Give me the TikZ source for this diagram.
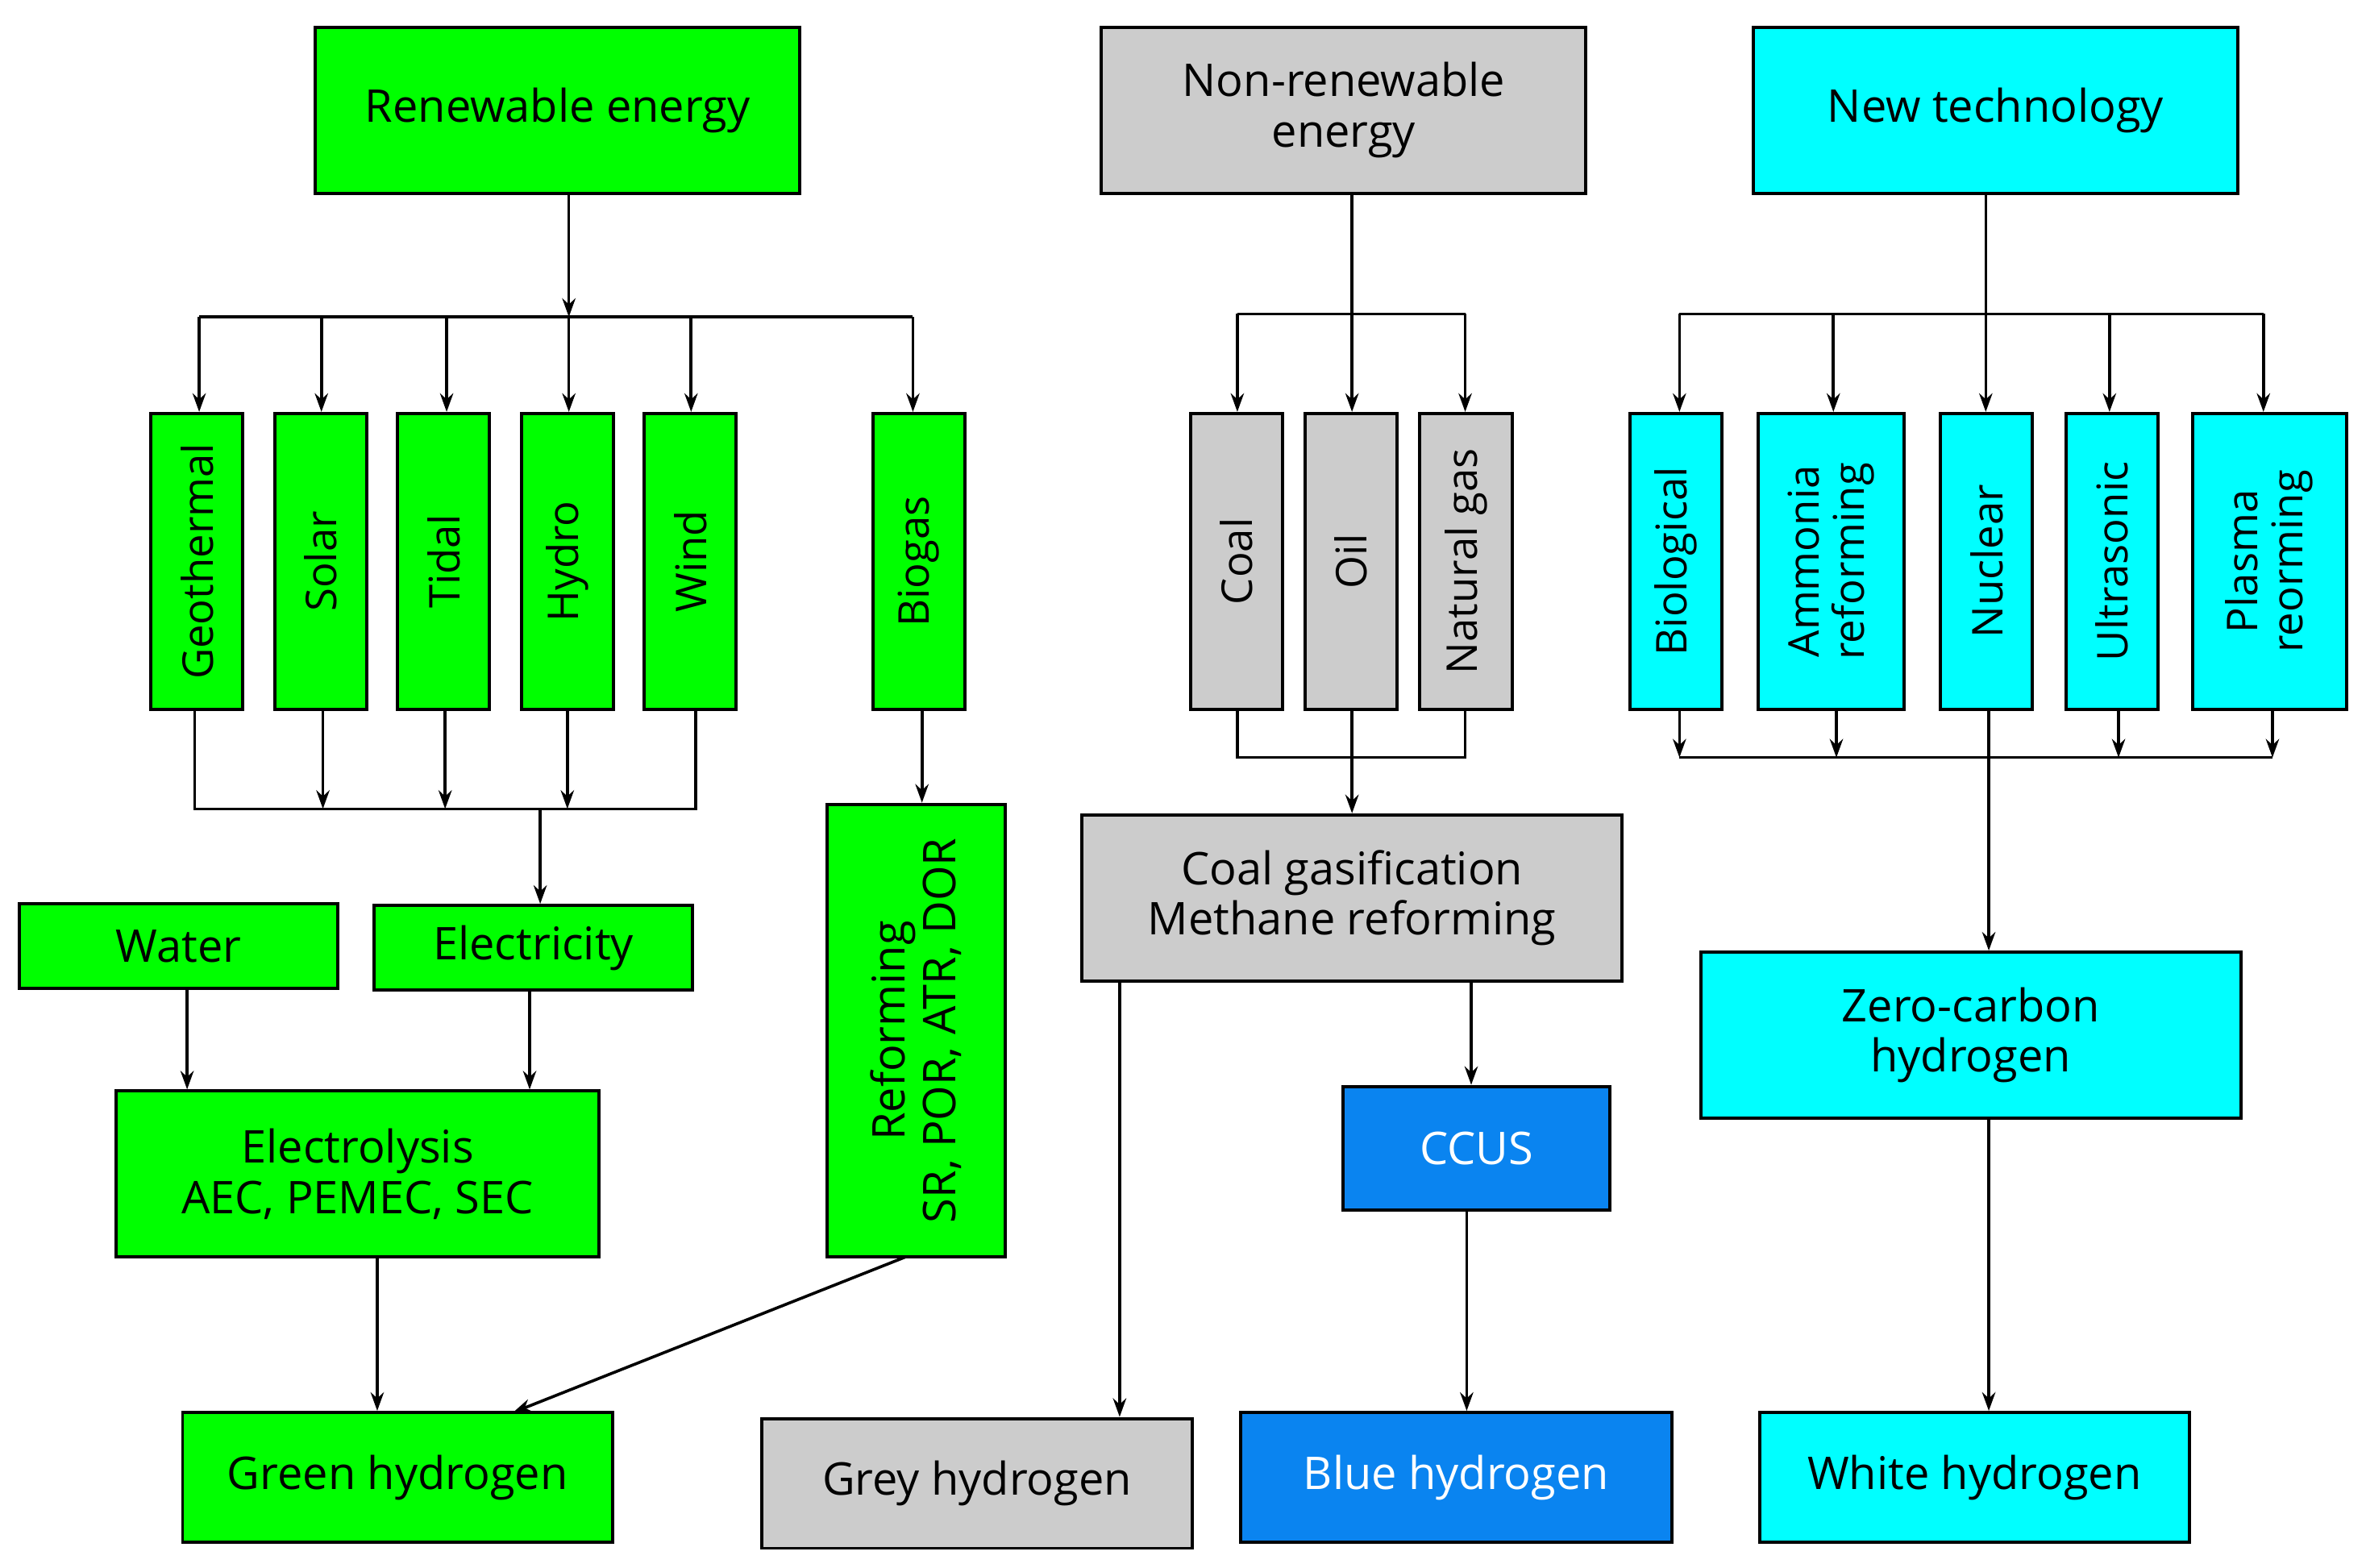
\documentclass[tikz,border=0pt]{standalone}
\usepackage{fontspec}
\setmainfont{Open Sans}
\usetikzlibrary{arrows.meta}
\definecolor{gr}{HTML}{00FF00}
\definecolor{gy}{HTML}{CCCCCC}
\definecolor{cy}{HTML}{00FFFF}
\definecolor{bl}{HTML}{0A84F0}
\begin{document}
\begin{tikzpicture}[x=0.02cm,y=-0.02cm,
  box/.style={draw,line width=1.2pt,inner sep=0pt,align=center,font=\fontsize{17}{19}\selectfont},
  vbox/.style={box,rotate=90,font=\fontsize{16}{17}\selectfont},
  sz/.style 2 args={minimum width=#1*0.02cm,minimum height=#2*0.02cm},
  ar/.style={line width=1.1pt,-{Stealth[length=7pt,width=5pt]}},
  ln/.style={line width=1.1pt}]
\useasboundingbox (0,0) rectangle (1568,1039);
% top
\node[box,fill=gr,sz={321}{110}] (ren) at (369.5,73) {Renewable energy};
\node[box,fill=gy,sz={321}{110}] (non) at (890.5,73) {Non-renewable\\energy};
\node[box,fill=cy,sz={321}{110}] (new) at (1322.5,73) {New technology};
% renewable sources
\node[vbox,fill=gr,sz={196}{61}] (geo) at (130.5,372) {Geothermal};
\node[vbox,fill=gr,sz={196}{61}] (sol) at (212.5,372) {Solar};
\node[vbox,fill=gr,sz={196}{61}] (tid) at (294,372) {Tidal};
\node[vbox,fill=gr,sz={196}{61}] (hyd) at (376,372) {Hydro};
\node[vbox,fill=gr,sz={196}{61}] (win) at (457.5,372) {Wind};
\node[vbox,fill=gr,sz={196}{61}] (bio) at (609,372) {Biogas};
% non-renewable
\node[vbox,fill=gy,sz={196}{61}] (coal) at (819.5,372) {Coal};
\node[vbox,fill=gy,sz={196}{61}] (oil) at (895.5,372) {Oil};
\node[vbox,fill=gy,sz={196}{61}] (gas) at (971.5,372) {Natural gas};
% new tech
\node[vbox,fill=cy,sz={196}{61}] (biol) at (1110.5,372) {Biological};
\node[vbox,fill=cy,sz={196}{97},align=center] (amm) at (1213.5,372) {Ammonia\\reforming};
\node[vbox,fill=cy,sz={196}{61}] (nuc) at (1316.5,372) {Nuclear};
\node[vbox,fill=cy,sz={196}{61}] (ult) at (1399.5,372) {Ultrasonic};
\node[vbox,fill=cy,sz={196}{102},align=center] (pla) at (1504,372) {Plasma\\reorming};
% middle
\node[box,fill=gr,sz={211}{56}] (wat) at (118.5,627) {Water};
\node[box,fill=gr,sz={211}{56}] (ele) at (353.5,628) {Electricity};
\node[box,fill=gr,sz={320}{110}] (lys) at (237,778) {Electrolysis\\AEC, PEMEC, SEC};
\node[vbox,fill=gr,sz={300}{118},font=\fontsize{17}{19}\selectfont] (rfm) at (607,683) {Reforming\\SR, POR, ATR, DOR};
\node[box,fill=gy,sz={358}{110}] (cgm) at (896,595) {Coal gasification\\Methane reforming};
\node[box,fill=bl,text=white,sz={177}{82}] (ccus) at (978.5,761) {CCUS};
\node[box,fill=cy,sz={358}{110}] (zc) at (1306,686) {Zero-carbon\\hydrogen};
% bottom
\node[box,fill=gr,sz={285}{86}] (gh) at (263.5,979) {Green hydrogen};
\node[box,fill=gy,sz={285}{86}] (grh) at (647.5,983) {\raisebox{-4pt}{Grey hydrogen}};
\node[box,fill=bl,text=white,sz={286}{86}] (bh) at (965,979) {Blue hydrogen};
\node[box,fill=cy,sz={285}{86}] (wh) at (1308.5,979) {White hydrogen};
% renewable connectors
\coordinate (rb) at (377,210);
\draw[ar] (ren.south -| rb) -- (rb);
\draw[ar] (rb) -- (hyd.east -| rb);
\draw[ln] (132,210) -- (605,210);
\draw[ar] (132,210) -- (geo.east -| 132,0);
\draw[ar] (213,210) -- (sol.east -| 213,0);
\draw[ar] (296,210) -- (tid.east -| 296,0);
\draw[ar] (458,210) -- (win.east -| 458,0);
\draw[ar] (605,210) -- (bio.east -| 605,0);
\coordinate (lb) at (358,536);
\draw[ln] (geo.west -| 129,0) -- (129,536) -- (461,536) -- (win.west -| 461,0);
\draw[ar] (sol.west -| 214,0) -- (214,536);
\draw[ar] (tid.west -| 295,0) -- (295,536);
\draw[ar] (hyd.west -| 376,0) -- (376,536);
\draw[ar] (lb) -- (ele.north -| lb);
\draw[ar] (bio.west -| 611,0) -- (rfm.east -| 611,0);
\draw[ar] (wat.south -| 124,0) -- (lys.north -| 124,0);
\draw[ar] (ele.south -| 351,0) -- (lys.north -| 351,0);
\draw[ar] (lys.south -| 250,0) -- (gh.north -| 250,0);
\draw[ar] (600,833) -- (340,936);
% non-renewable connectors
\draw[ar] (non.south -| 896,0) -- (oil.east -| 896,0);
\draw[ln] (820,208) -- (971,208);
\draw[ar] (820,208) -- (coal.east -| 820,0);
\draw[ar] (971,208) -- (gas.east -| 971,0);
\draw[ln] (coal.west -| 820,0) -- (820,502) -- (971,502) -- (gas.west -| 971,0);
\draw[ar] (oil.west -| 896,0) -- (cgm.north -| 896,0);
\draw[ar] (cgm.south -| 742,0) -- (grh.north -| 742,0);
\draw[ar] (cgm.south -| 975,0) -- (ccus.north -| 975,0);
\draw[ar] (ccus.south -| 972,0) -- (bh.north -| 972,0);
% new tech connectors
\draw[ar] (new.south -| 1316,0) -- (nuc.east -| 1316,0);
\draw[ln] (1113,208) -- (1500,208);
\draw[ar] (1113,208) -- (biol.east -| 1113,0);
\draw[ar] (1215,208) -- (amm.east -| 1215,0);
\draw[ar] (1398,208) -- (ult.east -| 1398,0);
\draw[ar] (1500,208) -- (pla.east -| 1500,0);
\draw[ln] (1113,502) -- (1506,502);
\draw[ar] (biol.west -| 1113,0) -- (1113,502);
\draw[ar] (amm.west -| 1217,0) -- (1217,502);
\draw[ar] (ult.west -| 1404,0) -- (1404,502);
\draw[ar] (pla.west -| 1506,0) -- (1506,502);
\draw[ar] (nuc.west -| 1318,0) -- (zc.north -| 1318,0);
\draw[ar] (zc.south -| 1318,0) -- (wh.north -| 1318,0);
\end{tikzpicture}
\end{document}
